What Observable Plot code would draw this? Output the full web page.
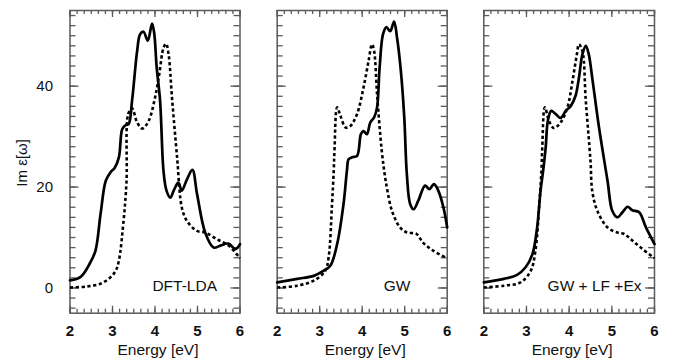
<!DOCTYPE html>
<html><head><meta charset="utf-8">
<script src="https://cdn.jsdelivr.net/npm/d3@7"></script>
<script src="https://cdn.jsdelivr.net/npm/@observablehq/plot@0.6"></script>
<style>
body{margin:0;background:#fff;}
#chart{position:relative;width:673px;height:360px;overflow:hidden;background:#fff;}
#chart svg{position:absolute;top:0;}
</style></head><body><div id="chart"></div>
<script>
const panelNames = ["DFT-LDA", "GW", "GW + LF +Ex"];
const xLabel = "Energy [eV]";
const yLabel = "Im ε[ω]";
const xTickValues = [2, 3, 4, 5, 6];
const yTickValues = [0, 20, 40];

// DFT-LDA panel
const dftSolidE = [2.0, 2.25, 2.48, 2.6, 2.72, 2.84, 2.95, 3.05, 3.15, 3.23, 3.31, 3.38, 3.46, 3.58, 3.65, 3.73, 3.83, 3.93, 3.98, 4.04, 4.12, 4.2, 4.27, 4.36, 4.45, 4.55, 4.63, 4.75, 4.88, 4.99, 5.18, 5.38, 5.54, 5.73, 5.89, 6.0];
const dftSolidV = [1.5, 2.2, 5.1, 7.4, 14.7, 21.2, 22.9, 23.8, 25.9, 31.5, 32.3, 32.5, 37.1, 47, 50.3, 50.8, 49, 52.4, 50.6, 43.7, 37.1, 23.2, 19.3, 17.9, 19.5, 20.9, 19.3, 21.5, 23.4, 18.6, 11, 8, 8.4, 8.8, 7.7, 8.7];
const dftDashE = [2.0, 2.4, 2.72, 2.95, 3.08, 3.15, 3.26, 3.33, 3.37, 3.46, 3.58, 3.7, 3.85, 4.0, 4.1, 4.2, 4.26, 4.32, 4.4, 4.52, 4.63, 4.75, 4.99, 5.18, 5.45, 5.73, 6.0];
const dftDashV = [0.1, 0.3, 0.85, 2.1, 3.5, 5.4, 13.3, 21.2, 34.5, 35.6, 32.8, 31.6, 33.1, 37.7, 42.4, 47.6, 48.4, 46.3, 37.7, 25.9, 16, 13.3, 11.3, 11, 9.7, 8.4, 5.9];

// GW panel
const gwSolidE = [2.0, 2.47, 2.86, 3.09, 3.25, 3.41, 3.56, 3.64, 3.68, 3.76, 3.88, 3.97, 4.03, 4.11, 4.19, 4.28, 4.35, 4.41, 4.49, 4.57, 4.66, 4.75, 4.82, 4.91, 4.99, 5.05, 5.13, 5.21, 5.32, 5.48, 5.58, 5.69, 5.79, 5.91, 6.0];
const gwSolidV = [1.1, 1.8, 2.4, 3.4, 4.4, 8.7, 16.6, 23.2, 25.5, 25.9, 26.2, 30.5, 31.1, 30.5, 32.8, 33.8, 35.8, 43.7, 50.3, 51.7, 50.9, 52.8, 49.6, 43, 33.8, 22.6, 16.6, 15.6, 17.3, 20.3, 19.6, 20.6, 19.3, 16, 12];
const gwDashE = [2.0, 2.47, 2.86, 3.13, 3.21, 3.29, 3.33, 3.35, 3.41, 3.49, 3.61, 3.72, 3.88, 4.03, 4.15, 4.23, 4.28, 4.35, 4.46, 4.54, 4.58, 4.7, 4.89, 5.05, 5.28, 5.43, 5.67, 6.0];
const gwDashV = [0.1, 0.45, 1.45, 3.4, 6.1, 16.6, 23.2, 27.8, 35.8, 34.1, 31.8, 32.1, 34.5, 39.7, 45, 48.3, 47, 38.4, 27.2, 21.9, 19.9, 15.3, 12, 11, 10.7, 9, 7.4, 5.9];

// GW + LF + Ex panel
const lfSolidE = [2.0, 2.47, 2.78, 2.98, 3.14, 3.25, 3.33, 3.39, 3.45, 3.5, 3.58, 3.68, 3.8, 3.92, 4.04, 4.15, 4.23, 4.31, 4.39, 4.46, 4.54, 4.7, 4.9, 5.01, 5.13, 5.25, 5.37, 5.48, 5.64, 5.8, 6.0];
const lfSolidV = [1.1, 1.8, 2.6, 4.1, 6.7, 12, 19.3, 23.2, 27.8, 33.1, 35.1, 34.5, 33.7, 35.1, 36.1, 38.1, 41.7, 46.3, 48, 46.3, 41.7, 31.8, 21.2, 15.3, 14, 15, 16.1, 15.4, 15, 12, 8.7];
const lfDashE = [2.0, 2.47, 2.86, 3.1, 3.21, 3.29, 3.35, 3.37, 3.43, 3.53, 3.64, 3.8, 3.96, 4.08, 4.18, 4.23, 4.31, 4.39, 4.5, 4.54, 4.66, 4.9, 5.13, 5.29, 5.48, 5.72, 6.0];
const lfDashV = [0.1, 0.45, 1.1, 3.4, 7.4, 15.3, 23.2, 27.8, 35.8, 33.1, 31.7, 32.8, 35.8, 41.1, 46.3, 48.3, 47, 37.1, 25.2, 19.3, 15.3, 12, 11, 10.7, 9.4, 7.7, 5.9];

const toRows = (E, V) => E.map((e, i) => ({e, v: V[i]}));

const FONT = "'Liberation Sans', Arial, Helvetica, sans-serif";
const frameColor = "#5a5a5a";
const xMinor = d3.range(2, 6.0001, 1 / 6);
const yMinor = d3.range(-4, 55, 2);

const HEIGHT = 360, MT = 10, MB = 47.3;
const layouts = [
  {left: 0, width: 245, marginLeft: 69.5, marginRight: 5.5, labelDx: -23, showY: true},
  {left: 240, width: 212, marginLeft: 36.7, marginRight: 5.3, labelDx: -36.7, showY: false},
  {left: 450, width: 223, marginLeft: 33.3, marginRight: 19, labelDx: -13, showY: false}
];
const series = [
  [toRows(dftSolidE, dftSolidV), toRows(dftDashE, dftDashV)],
  [toRows(gwSolidE, gwSolidV), toRows(gwDashE, gwDashV)],
  [toRows(lfSolidE, lfSolidV), toRows(lfDashE, lfDashV)]
];

const chart = document.getElementById("chart");
const tk = {stroke: frameColor, strokeWidth: 1.3};

panelNames.forEach((name, k) => {
  const L = layouts[k];
  const [solid, dash] = series[k];
  const fw = L.width - L.marginLeft - L.marginRight;
  const fh = HEIGHT - MT - MB;
  const marks = [
    Plot.frame({stroke: frameColor, strokeWidth: 1.5, fill: "none"}),
    // inward ticks: bottom, top, left, right
    Plot.tickX(xMinor, {x: d => d, insetTop: fh - 4, ...tk}),
    Plot.tickX(xTickValues, {x: d => d, insetTop: fh - 7, ...tk}),
    Plot.tickX(xMinor, {x: d => d, insetBottom: fh - 4, ...tk}),
    Plot.tickX(xTickValues, {x: d => d, insetBottom: fh - 7, ...tk}),
    Plot.tickY(yMinor, {y: d => d, insetRight: fw - 6, ...tk}),
    Plot.tickY(yTickValues, {y: d => d, insetRight: fw - 9, ...tk}),
    Plot.tickY(yMinor, {y: d => d, insetLeft: fw - 6, ...tk}),
    Plot.tickY(yTickValues, {y: d => d, insetLeft: fw - 9, ...tk}),
    // tick labels
    Plot.axisX({ticks: xTickValues, anchor: "bottom", tickSize: 0, tickPadding: 12, fontSize: 15, fontWeight: "bold", fill: "#111", label: null, tickFormat: d3.format("d")}),
    Plot.line(dash, {x: "e", y: "v", curve: "catmull-rom", stroke: "#000", strokeWidth: 2.6, strokeDasharray: "3.2,2.6", strokeLinecap: "butt"}),
    Plot.line(solid, {x: "e", y: "v", curve: "catmull-rom", stroke: "#000", strokeWidth: 2.7}),
    Plot.text([name], {frameAnchor: "bottom-right", textAnchor: "end", lineAnchor: "bottom", dx: L.labelDx, dy: -22, fontSize: 15.5, fill: "#111"}),
    Plot.text([xLabel], {frameAnchor: "bottom", textAnchor: "middle", lineAnchor: "bottom", dx: 3, dy: 42, fontSize: 15.5, fill: "#111"})
  ];
  if (L.showY) {
    marks.push(Plot.axisY({ticks: yTickValues, anchor: "left", tickSize: 0, tickPadding: 17, fontSize: 15, fill: "#111", label: null, tickFormat: d3.format("d")}));
    marks.push(Plot.text([yLabel], {frameAnchor: "left", textAnchor: "middle", rotate: -90, dx: -47.5, dy: 1, fontSize: 15, fill: "#111"}));
  }
  const svg = Plot.plot({
    width: L.width,
    height: HEIGHT,
    marginLeft: L.marginLeft,
    marginRight: L.marginRight,
    marginTop: MT,
    marginBottom: MB,
    x: {domain: [2, 6]},
    y: {domain: [-5, 55], axis: L.showY ? undefined : null},
    style: {fontFamily: FONT, background: "transparent", overflow: "visible"},
    marks
  });
  svg.style.left = L.left + "px";
  chart.appendChild(svg);
});
</script>
</body></html>
